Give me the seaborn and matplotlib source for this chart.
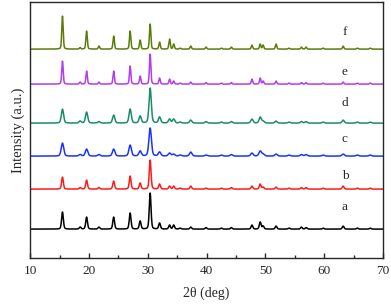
import numpy as np
import pandas as pd
import matplotlib
matplotlib.use("Agg")
import matplotlib.pyplot as plt
import seaborn as sns
from matplotlib.ticker import MultipleLocator

# peak positions (2theta, deg) shared by all samples
peak_pos = [15.5, 18.5, 19.6, 21.7, 24.2, 27.0, 28.7, 30.4, 32.0, 33.7, 34.4, 35.5,
            37.3, 39.9, 42.5, 44.2, 47.7, 49.1, 49.6, 51.8, 54.0, 56.1, 56.9, 59.8,
            63.2, 65.6, 67.8]

samples = ["a", "b", "c", "d", "e", "f"]
offsets = [29, 69, 102, 135, 174, 209]
fwhm = [0.35, 0.35, 0.5, 0.45, 0.28, 0.28]
colors = ["#000000", "#ff1a1a", "#1a33ff", "#1a8c6a", "#b23cf0", "#5a7d0a"]

h_a = [17, 2, 12, 2, 12, 16, 8, 36, 6, 4, 4, 1, 2, 1.5, 1, 1.5, 4, 7, 3, 3, 1, 2, 1.5, 1, 3, 1, 1]
h_b = [12, 1.5, 9, 1.5, 8, 13, 6, 29, 5, 3, 3, 1, 3, 1, 1, 1.5, 3, 5, 2, 2, 1, 1.5, 1.5, 1, 3, 1, 1]
h_c = [13, 1.5, 7, 1.5, 7, 11, 5, 28, 4, 3, 2, 1, 4, 1, 1, 1.5, 3, 5, 2, 2, 1, 1.5, 1.5, 1, 2, 1, 1]
h_d = [14, 2, 11, 1.5, 8, 14, 7, 35, 6, 4, 4, 1, 3, 1.5, 1, 1.5, 4, 6, 2, 2, 1, 1.5, 1.5, 1, 3, 1, 1]
h_e = [23, 2, 13, 2, 13, 18, 8, 30, 6, 5, 3, 1, 2, 1.5, 1, 1.5, 5, 6, 3, 3, 1, 1.5, 1.5, 1, 2, 1, 1]
h_f = [33, 1.5, 18, 3, 13, 18, 9, 25, 7, 10, 5, 1, 3, 2, 1, 2, 4, 5, 4, 5, 1, 2, 2, 1, 3, 1, 1]
heights = [h_a, h_b, h_c, h_d, h_e, h_f]

label_x = 63.5
label_y = [45, 76, 113, 149, 180, 220]

two_theta = np.arange(10, 70.001, 0.02)
frames = []
for name, off, w, hs in zip(samples, offsets, fwhm, heights):
    y = np.full_like(two_theta, float(off))
    sig = w / 2.355
    for p, h in zip(peak_pos, hs):
        # pseudo-Voigt peak profile
        g = np.exp(-0.5 * ((two_theta - p) / sig) ** 2)
        l = 1 / (1 + ((two_theta - p) / (w / 2)) ** 2)
        y += h * (0.7 * g + 0.3 * l)
    frames.append(pd.DataFrame({"2theta": two_theta, "intensity": y, "sample": name}))
df = pd.concat(frames, ignore_index=True)

sns.set_style("ticks")
plt.rcParams["font.family"] = ["Liberation Serif", "DejaVu Serif"]

fig = plt.figure(figsize=(3.91, 3.04), dpi=100)
ax = fig.add_axes([0.077, 0.151, 0.903, 0.842])
sns.lineplot(data=df, x="2theta", y="intensity", hue="sample", palette=colors,
             estimator=None, sort=False, linewidth=1.1, legend=False, ax=ax)

for name, ly in zip(samples, label_y):
    ax.text(label_x, ly, name, fontsize=9.5, ha="center", va="bottom")

ax.set_xlim(10, 70)
ax.set_ylim(0, 256)
ax.xaxis.set_major_locator(MultipleLocator(10))
ax.xaxis.set_minor_locator(MultipleLocator(5))
ax.tick_params(axis="x", which="both", direction="in", top=False, labelsize=9.5, pad=5)
ax.tick_params(axis="x", which="major", length=3.5, width=1)
ax.tick_params(axis="x", which="minor", length=2, width=1)
ax.set_yticks([])
ax.set_xlabel("2θ (deg)", fontsize=10, labelpad=7)
ax.set_ylabel("Intensity (a.u.)", fontsize=10.5, labelpad=4)
for s in ax.spines.values():
    s.set_linewidth(1.0)
    s.set_visible(True)

fig.savefig("out.png", dpi=100)
